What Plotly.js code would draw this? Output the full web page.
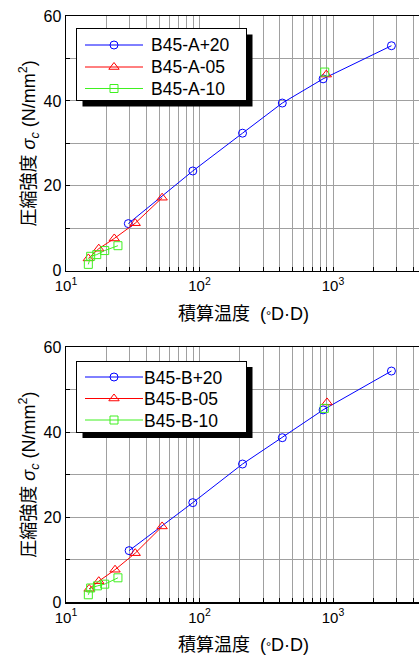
<!DOCTYPE html>
<html>
<head>
<meta charset="utf-8">
<script src="https://cdn.plot.ly/plotly-3.0.1.min.js"></script>
<style>
  html, body { margin: 0; padding: 0; overflow: hidden; background: #fff; }
  #chart { width: 423px; height: 655px; }
</style>
</head>
<body>
<div id="chart"></div>
<script>
// Compressive strength vs. accumulated temperature (maturity), series A and B
const seriesA = ['B45-A+20', 'B45-A-05', 'B45-A-10'];
const seriesB = ['B45-B+20', 'B45-B-05', 'B45-B-10'];

// Maturity (°D·D); null separates early-age points from the final one
const matA20 = [29.3, 89.1, 210, 417, 843, 2740];
const strA20 = [11.1, 23.5, 32.4, 39.5, 45.2, 53.0];
const matA05 = [14.7, 17.6, 23.0, 33.0, 52.5, null, 891];
const strA05 = [2.9, 5.2, 7.6, 11.2, 17.2, null, 46.2];
const matA10 = [14.7, 15.3, 17.0, 19.5, 24.5, null, 867];
const strA10 = [1.5, 3.4, 3.8, 4.75, 5.9, null, 46.8];

const matB20 = [29.7, 89.1, 210, 417, 843, 2740];
const strB20 = [12.1, 23.4, 32.5, 38.7, 45.25, 54.4];
const matB05 = [14.9, 17.6, 23.3, 33.0, 52.5, null, 902];
const strB05 = [3.1, 4.9, 7.6, 11.5, 17.8, null, 47.0];
const matB10 = [14.7, 15.3, 17.2, 19.5, 24.5, null, 861];
const strB10 = [1.7, 3.3, 3.8, 4.2, 5.7, null, 45.6];

// Axis ticks
const xDecades = [10, 100, 1000, 10000];
const xDecadeLabels = ['10<sup>1</sup>', '10<sup>2</sup>', '10<sup>3</sup>', '10<sup>4</sup>'];
const yTickVals = [0, 10, 20, 30, 40, 50, 60];
const yTickLabels = ['0', '', '20', '', '40', '', '60'];

const colors = ['#0000ff', '#ff0000', '#40f020'];
const symbols = ['circle-open', 'triangle-up-open', 'square-open'];
const msizes = [8, 9, 8];

// every 1..9 multiple of each decade gets a grid line; only decades are labelled
const xTickVals = [];
const xTickText = [];
xDecades.forEach((d, i) => {
  const last = i === xDecades.length - 1;
  for (let m = 1; m <= (last ? 1 : 9); m++) {
    xTickVals.push(d * m);
    xTickText.push(m === 1 ? xDecadeLabels[i] : '');
  }
});

const FONT = 'Liberation Sans, Arial, Noto Sans CJK JP, sans-serif';

function mk(name, x, y, i, xa, ya, leg) {
  return {
    type: 'scatter', mode: 'lines+markers', name: name,
    x: x, y: y, xaxis: xa, yaxis: ya, legend: leg,
    connectgaps: false, cliponaxis: false,
    line: { color: colors[i], width: 1 },
    marker: { symbol: symbols[i], size: msizes[i], color: colors[i], line: { width: 1, color: colors[i] } }
  };
}

const traces = [
  mk(seriesA[0], matA20, strA20, 0, 'x', 'y', 'legend'),
  mk(seriesA[1], matA05, strA05, 1, 'x', 'y', 'legend'),
  mk(seriesA[2], matA10, strA10, 2, 'x', 'y', 'legend'),
  mk(seriesB[0], matB20, strB20, 0, 'x2', 'y2', 'legend2'),
  mk(seriesB[1], matB05, strB05, 1, 'x2', 'y2', 'legend2'),
  mk(seriesB[2], matB10, strB10, 2, 'x2', 'y2', 'legend2')
];

const M = { l: 66, r: 2, t: 15.7, b: 52.7 };
const W = 423, H = 655;
const plotW = W - M.l - M.r, plotH = H - M.t - M.b;
const xEnd = 1 + plotW / 133.5;

function xAxis(anchor) {
  return {
    type: 'log', range: [1, xEnd], anchor: anchor,
    tickmode: 'array', tickvals: xTickVals, ticktext: xTickText,
    ticks: 'inside', ticklen: 4, tickwidth: 1, tickcolor: '#000',
    ticklabelstandoff: 1,
    showgrid: true, gridcolor: '#a0a0a0', gridwidth: 1,
    showline: true, linecolor: '#000', linewidth: 1.5, mirror: true,
    zeroline: false,
    tickfont: { family: FONT, size: 15, color: '#000' },
    title: { text: '積算温度  (<span style="font-size:13px">°</span>D·D)', font: { family: FONT, size: 18, color: '#000' }, standoff: 14 }
  };
}
function yAxis(anchor, domain) {
  return {
    range: [0, 60], domain: domain, anchor: anchor,
    tickmode: 'array', tickvals: yTickVals, ticktext: yTickLabels,
    ticks: 'inside', ticklen: 4, tickwidth: 1, tickcolor: '#000',
    showgrid: true, gridcolor: '#a0a0a0', gridwidth: 1,
    showline: true, linecolor: '#000', linewidth: 1.5, mirror: true,
    zeroline: false,
    tickfont: { family: FONT, size: 16, color: '#000' },
    title: { text: '圧縮強度 <i>σ<sub>c</sub></i> (N/mm<sup>2</sup>)', font: { family: FONT, size: 18, color: '#000' }, standoff: 3 }
  };
}

// legend boxes: left/top in px, row centres relative to the box top
const LEG = {
  legend:  { left: 76, top: 28,    w: 171, h: 73, rows: [17, 39, 60.5] },
  legend2: { left: 76, top: 360.5, w: 171, h: 72, rows: [16.5, 38, 59.5] }
};

function legendAt(b) {
  return {
    x: (b.left - M.l) / plotW, xanchor: 'left',
    y: (H - M.b - b.top) / plotH, yanchor: 'top',
    bgcolor: '#fff', bordercolor: '#000', borderwidth: 1,
    font: { family: FONT, size: 17.5, color: '#000' },
    itemwidth: 58, tracegroupgap: 0
  };
}

const topLow = 255 / plotH;
const layout = {
  width: W, height: H, margin: M,
  paper_bgcolor: '#fff', plot_bgcolor: '#fff',
  showlegend: true,
  xaxis: xAxis('y'),
  yaxis: yAxis('x', [1 - 255 / plotH, 1]),
  xaxis2: xAxis('y2'),
  yaxis2: yAxis('x2', [0, topLow]),
  legend: legendAt(LEG.legend),
  legend2: legendAt(LEG.legend2)
};

// tighten each legend: row pitch, longer line samples, and a drop shadow
function tuneLegend(gd, id) {
  const b = LEG[id];
  const g = gd.querySelector('g.infolayer > g.' + id) || gd.querySelector('g.' + id);
  if (!g) return;
  const ns = 'http://www.w3.org/2000/svg';
  g.setAttribute('transform', 'translate(' + b.left + ',' + b.top + ')');
  const bg = g.querySelector('rect.bg');
  if (bg) {
    bg.setAttribute('x', 0.5); bg.setAttribute('y', 0.5);
    bg.setAttribute('width', b.w - 1); bg.setAttribute('height', b.h - 1);
    const sh = document.createElementNS(ns, 'rect');
    sh.setAttribute('x', 6.5); sh.setAttribute('y', 6.5);
    sh.setAttribute('width', b.w - 1); sh.setAttribute('height', b.h - 1);
    sh.setAttribute('style', 'fill:#000;stroke:none');
    g.insertBefore(sh, bg);
  }
  const sb = g.querySelector('g.scrollbox');
  if (sb) { sb.removeAttribute('clip-path'); sb.removeAttribute('transform'); }
  g.querySelectorAll('g.groups').forEach(e => e.removeAttribute('transform'));
  const sbar = g.querySelector('rect.scrollbar');
  if (sbar) sbar.remove();
  g.querySelectorAll('g.traces').forEach((it, i) => {
    it.setAttribute('transform', 'translate(0,' + b.rows[i] + ')');
    it.querySelectorAll('g.layers, g.legendlines, g.legendsymbols, g.legendpoints')
      .forEach(e => e.removeAttribute('transform'));
    it.querySelectorAll('path.js-line').forEach(p => { p.setAttribute('d', 'M9,0h58'); p.removeAttribute('transform'); });
    it.querySelectorAll('path.scatterpts').forEach(p => p.setAttribute('transform', 'translate(38,0)'));
    const tx = it.querySelector('text.legendtext');
    if (tx) { tx.setAttribute('x', 75); tx.setAttribute('y', 6.3); }
  });
}

Plotly.newPlot('chart', traces, layout, { staticPlot: true, displayModeBar: false }).then(gd => {
  tuneLegend(gd, 'legend');
  tuneLegend(gd, 'legend2');
});
</script>
</body>
</html>
